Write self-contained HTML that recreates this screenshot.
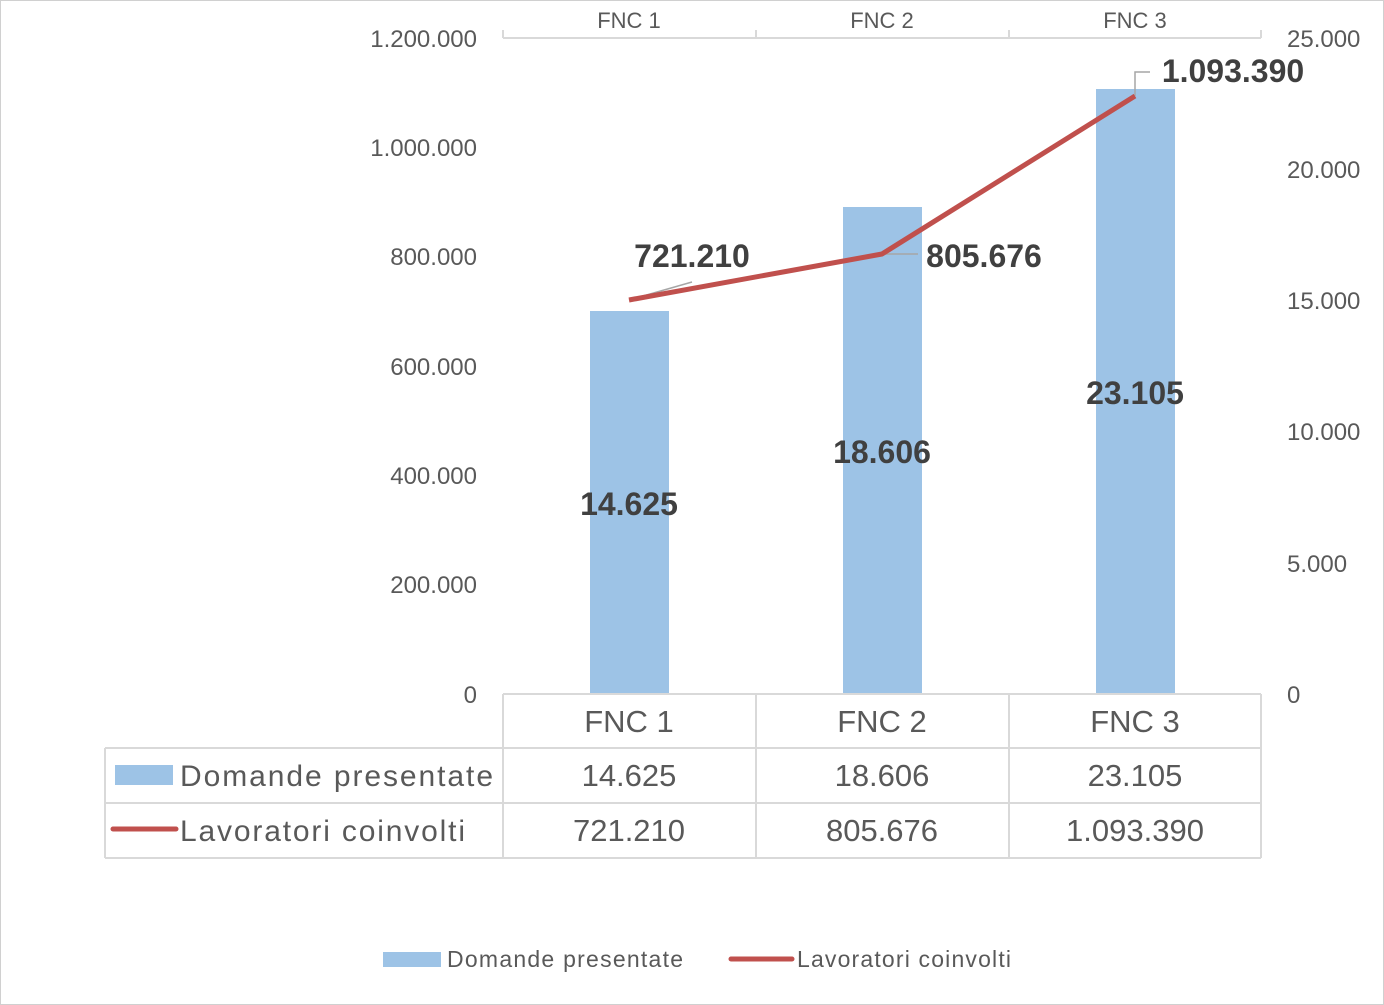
<!DOCTYPE html>
<html><head><meta charset="utf-8"><style>
html,body{margin:0;padding:0;background:#fff}
svg{display:block}
text{font-family:"Liberation Sans",sans-serif;fill:#595959}
</style></head><body>
<svg width="1384" height="1005" viewBox="0 0 1384 1005">
<rect x="0.5" y="0.5" width="1383" height="1004" fill="#fff" stroke="#d0d0d0"/>
<g font-size="24" text-anchor="end">
<text x="477" y="47">1.200.000</text>
<text x="477" y="156">1.000.000</text>
<text x="477" y="265">800.000</text>
<text x="477" y="375">600.000</text>
<text x="477" y="484">400.000</text>
<text x="477" y="593">200.000</text>
<text x="477" y="703">0</text>
</g>
<g font-size="24" text-anchor="start">
<text x="1287" y="47">25.000</text>
<text x="1287" y="178">20.000</text>
<text x="1287" y="309">15.000</text>
<text x="1287" y="440">10.000</text>
<text x="1287" y="572">5.000</text>
<text x="1287" y="703">0</text>
</g>
<g stroke="#d9d9d9" stroke-width="2" fill="none">
<line x1="503" y1="38" x2="1261" y2="38"/>
<line x1="503" y1="30" x2="503" y2="38"/>
<line x1="756" y1="30" x2="756" y2="38"/>
<line x1="1009" y1="30" x2="1009" y2="38"/>
<line x1="1261" y1="30" x2="1261" y2="38"/>
</g>
<g font-size="22" text-anchor="middle">
<text x="629" y="28">FNC 1</text>
<text x="882" y="28">FNC 2</text>
<text x="1135" y="28">FNC 3</text>
</g>
<g fill="#9dc3e6">
<rect x="590" y="311" width="79" height="383"/>
<rect x="843" y="207" width="79" height="487"/>
<rect x="1096" y="89" width="79" height="605"/>
</g>
<g stroke="#a6a6a6" stroke-width="1.5" fill="none">
<line x1="629" y1="300" x2="692" y2="282"/>
<line x1="882" y1="254" x2="918" y2="254"/>
<polyline points="1135,96 1135,72 1150,72"/>
</g>
<polyline points="629,300 882,254 1135,96" fill="none" stroke="#c0504d" stroke-width="5" stroke-linejoin="round"/>
<g font-size="32" font-weight="bold">
<text x="692" y="267" text-anchor="middle" style="fill:#404040">721.210</text>
<text x="984" y="267" text-anchor="middle" style="fill:#404040">805.676</text>
<text x="1233" y="82" text-anchor="middle" style="fill:#404040">1.093.390</text>
<text x="629" y="515" text-anchor="middle" style="fill:#404040">14.625</text>
<text x="882" y="463" text-anchor="middle" style="fill:#404040">18.606</text>
<text x="1135" y="404" text-anchor="middle" style="fill:#404040">23.105</text>
</g>
<g stroke="#d9d9d9" stroke-width="2" fill="none">
<line x1="503" y1="694" x2="1261" y2="694"/>
<line x1="105" y1="748" x2="1261" y2="748"/>
<line x1="105" y1="803" x2="1261" y2="803"/>
<line x1="105" y1="858" x2="1261" y2="858"/>
<line x1="105" y1="748" x2="105" y2="858"/>
<line x1="503" y1="694" x2="503" y2="858"/>
<line x1="756" y1="694" x2="756" y2="858"/>
<line x1="1009" y1="694" x2="1009" y2="858"/>
<line x1="1261" y1="694" x2="1261" y2="858"/>
</g>
<g font-size="31" text-anchor="middle">
<text x="629" y="732">FNC 1</text>
<text x="882" y="732">FNC 2</text>
<text x="1135" y="732">FNC 3</text>
<text x="629" y="786">14.625</text>
<text x="882" y="786">18.606</text>
<text x="1135" y="786">23.105</text>
<text x="629" y="841">721.210</text>
<text x="882" y="841">805.676</text>
<text x="1135" y="841">1.093.390</text>
</g>
<rect x="115" y="765" width="58" height="20" fill="#9dc3e6"/>
<text x="180" y="786" font-size="30" textLength="313">Domande presentate</text>
<line x1="113" y1="829" x2="176" y2="829" stroke="#c0504d" stroke-width="5" stroke-linecap="round"/>
<text x="180" y="841" font-size="30" textLength="285">Lavoratori coinvolti</text>
<rect x="383" y="952" width="58" height="15" fill="#9dc3e6"/>
<text x="447" y="967" font-size="23" textLength="236">Domande presentate</text>
<line x1="731" y1="959" x2="792" y2="959" stroke="#c0504d" stroke-width="5" stroke-linecap="round"/>
<text x="797" y="967" font-size="23" textLength="214">Lavoratori coinvolti</text>
</svg>
</body></html>
